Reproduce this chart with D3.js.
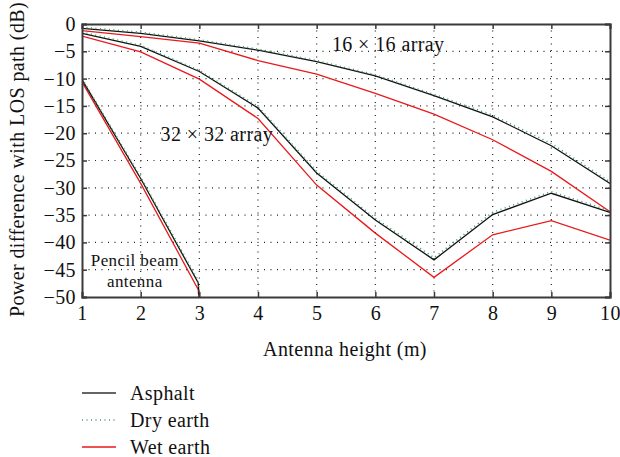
<!DOCTYPE html>
<html>
<head>
<meta charset="utf-8">
<script src="https://cdn.jsdelivr.net/npm/d3@7"></script>
<style>
    body { margin: 0; background: #fff; }
    svg text { font-family: "Liberation Serif", "Times New Roman", "DejaVu Serif", serif !important; fill: #111; letter-spacing: 0.4px; }
</style>
</head>
<body>
<div id="chart"></div>
<script>
// antenna heights (m)
const heights = [1, 2, 3, 4, 5, 6, 7, 8, 9, 10];

// 16 x 16 array
const arr16Asphalt = [-0.8, -1.7, -3.1, -4.8, -6.9, -9.5, -13.1, -17.0, -22.3, -29.2];
const arr16Dry     = [-0.6, -1.5, -2.9, -4.6, -6.7, -9.3, -12.9, -16.7, -21.9, -28.9];
const arr16Wet     = [-1.2, -2.3, -3.5, -6.7, -9.2, -12.7, -16.5, -21.2, -27.0, -34.4];

// 32 x 32 array
const arr32Asphalt = [-1.7, -4.1, -8.7, -15.4, -27.3, -35.9, -43.2, -34.9, -31.0, -34.5];
const arr32Dry     = [-1.5, -3.9, -8.5, -15.1, -27.0, -35.6, -42.8, -34.5, -30.7, -34.2];
const arr32Wet     = [-2.2, -5.1, -10.1, -17.3, -29.5, -38.3, -46.4, -38.6, -36.0, -39.6];

// pencil beam antenna (falls below -50 just after 3 m)
const pencilHeights = [1, 2, 2.98, 3.03];
const pencilAsphalt = [-10.2, -28.3, -47.4, -55];
const pencilDry     = [-10.0, -28.0, -47.0, -55];
const pencilWet     = [-10.6, -29.2, -48.6, -55];

const xTicks = [1, 2, 3, 4, 5, 6, 7, 8, 9, 10];
const yTicks = [0, -5, -10, -15, -20, -25, -30, -35, -40, -45, -50];

const legendItems = ["Asphalt", "Dry earth", "Wet earth"];

const styles = {
    asphalt: {stroke: "#111", dash: null, width: 1.3},
    dry: {stroke: "#3c9a64", dash: "1,3.5", width: 1.6},
    wet: {stroke: "#e8191c", dash: null, width: 1.3}
};

const W = 620, H = 457;
const margin = {top: 24, right: 10, bottom: 160, left: 82};
const width = W - margin.left - margin.right,
    height = H - margin.top - margin.bottom;

const svg = d3.select("#chart").append("svg")
    .attr("width", W)
    .attr("height", H);

const g = svg.append("g")
    .attr("transform", "translate(" + margin.left + "," + margin.top + ")");

const x = d3.scaleLinear().domain([1, 10]).range([0, width]);
const y = d3.scaleLinear().domain([-50, 0]).range([height, 0]);

// dotted grid
g.append("g").selectAll("line.gx")
    .data(xTicks.slice(1, -1))
    .enter().append("line")
    .attr("x1", d => x(d)).attr("x2", d => x(d))
    .attr("y1", 0).attr("y2", height)
    .attr("stroke", "#222").attr("stroke-width", 1.2)
    .attr("stroke-dasharray", "1,5.5");

g.append("g").selectAll("line.gy")
    .data(yTicks.slice(1, -1))
    .enter().append("line")
    .attr("x1", 0).attr("x2", width)
    .attr("y1", d => y(d)).attr("y2", d => y(d))
    .attr("stroke", "#222").attr("stroke-width", 1.2)
    .attr("stroke-dasharray", "1,5.5");

const clip = g.append("clipPath").attr("id", "plot-clip");
clip.append("rect").attr("width", width).attr("height", height);

const line = d3.line().x(d => x(d[0])).y(d => y(d[1]));

function drawSeries(xs, ys, st) {
    g.append("path")
        .datum(xs.map((h, i) => [h, ys[i]]))
        .attr("clip-path", "url(#plot-clip)")
        .attr("fill", "none")
        .attr("stroke", st.stroke)
        .attr("stroke-width", st.width)
        .attr("stroke-dasharray", st.dash)
        .attr("d", line);
}

drawSeries(heights, arr16Wet, styles.wet);
drawSeries(heights, arr32Wet, styles.wet);
drawSeries(pencilHeights, pencilWet, styles.wet);
drawSeries(heights, arr16Asphalt, styles.asphalt);
drawSeries(heights, arr32Asphalt, styles.asphalt);
drawSeries(pencilHeights, pencilAsphalt, styles.asphalt);
drawSeries(heights, arr16Dry, styles.dry);
drawSeries(heights, arr32Dry, styles.dry);
drawSeries(pencilHeights, pencilDry, styles.dry);

// axes with inward ticks on all four sides
const axisColor = "#3a3a3a";
const xAxis = g.append("g")
    .attr("transform", "translate(0," + height + ")")
    .call(d3.axisBottom(x).tickValues(xTicks).tickSize(-5).tickPadding(9));
const yAxis = g.append("g")
    .call(d3.axisLeft(y).tickValues(yTicks).tickSize(-5).tickPadding(6)
        .tickFormat(d => d < 0 ? "\u2212" + Math.abs(d) : d));
const xTop = g.append("g")
    .call(d3.axisTop(x).tickValues(xTicks).tickSize(-5).tickFormat(""));
const yRight = g.append("g")
    .attr("transform", "translate(" + width + ",0)")
    .call(d3.axisRight(y).tickValues(yTicks).tickSize(-5).tickFormat(""));

[xAxis, yAxis, xTop, yRight].forEach(a => {
    a.attr("font-family", null);
    a.select(".domain").attr("stroke", axisColor).attr("stroke-width", 2);
    a.selectAll(".tick line").attr("stroke", axisColor).attr("stroke-width", 1.5);
    a.selectAll("text").style("font-size", "20px").attr("fill", "#111");
});

// annotations
g.append("text").attr("x", x(5.26)).attr("y", y(-4.9))
    .style("font-size", "20px").text("16 \u00d7 16 array");
g.append("text").attr("x", x(2.34)).attr("y", y(-21.5))
    .style("font-size", "20px").text("32 \u00d7 32 array");
g.append("text").attr("text-anchor", "middle").style("font-size", "17px")
    .attr("x", x(1.9)).attr("y", y(-44.4)).text("Pencil beam");
g.append("text").attr("text-anchor", "middle").style("font-size", "17px")
    .attr("x", x(1.9)).attr("y", y(-48.2)).text("antenna");

// axis titles
svg.append("text")
    .attr("x", margin.left + width / 2 - 1).attr("y", 356)
    .attr("text-anchor", "middle").style("font-size", "20px")
    .text("Antenna height (m)");
svg.append("text")
    .attr("transform", "translate(24," + (margin.top + height / 2 - 1) + ") rotate(-90)")
    .attr("text-anchor", "middle").style("font-size", "20px")
    .text("Power difference with LOS path (dB)");

// legend
const legendStyles = [styles.asphalt, styles.dry, styles.wet];
const legend = svg.append("g").attr("transform", "translate(82,393)");
legendItems.forEach((name, i) => {
    const row = legend.append("g").attr("transform", "translate(0," + i * 27 + ")");
    row.append("line")
        .attr("x1", 0).attr("x2", 34).attr("y1", 0).attr("y2", 0)
        .attr("stroke", legendStyles[i].stroke === "#111" ? "#333" : legendStyles[i].stroke)
        .attr("stroke-width", 1.4)
        .attr("stroke-dasharray", legendStyles[i].dash);
    row.append("text").attr("x", 48).attr("y", 7)
        .style("font-size", "20px").text(name);
});
</script>
</body>
</html>
